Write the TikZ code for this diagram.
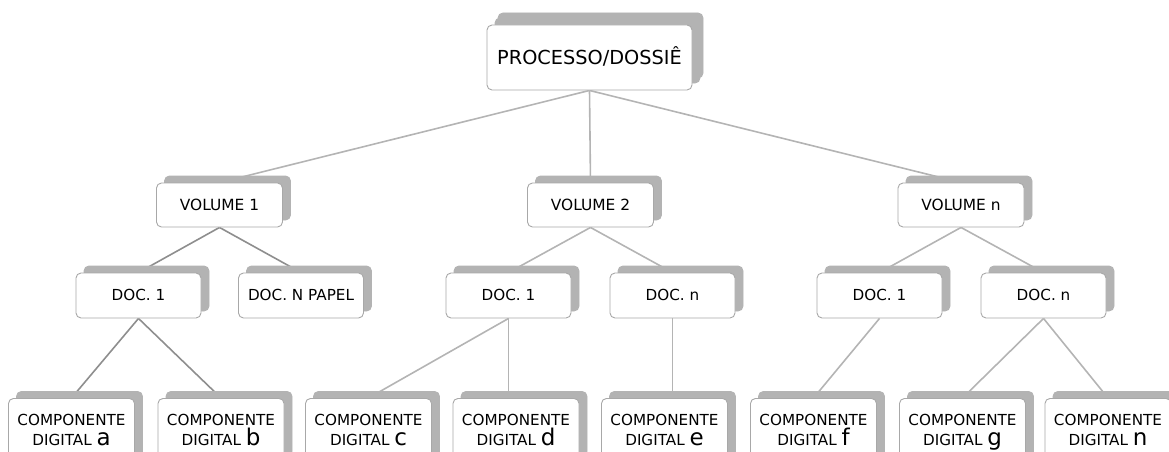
\documentclass[tikz,border=0pt]{standalone}
\usepackage{fontspec}
\setmainfont{DejaVu Sans}
\usetikzlibrary{shadows,backgrounds}
\definecolor{shadowgray}{HTML}{B3B3B3}
\definecolor{boxborder}{HTML}{A8A8A8}
\definecolor{linelight}{HTML}{B4B4B4}
\definecolor{linedark}{HTML}{8E8E8E}
\tikzset{
  card/.style={draw=boxborder, line width=0.9pt, fill=white, rounded corners=5pt,
    inner sep=0pt, text=black,
    copy shadow={shadow xshift=8pt, shadow yshift=7pt, fill=shadowgray, draw=shadowgray}},
  topcard/.style={card, copy shadow={shadow xshift=11pt, shadow yshift=12pt, fill=shadowgray, draw=shadowgray},
    minimum width=205pt, minimum height=65pt, text height=15pt, text depth=0pt,
    font=\fontsize{19.3}{23}\selectfont},
  volcard/.style={card, minimum width=126pt, minimum height=44pt, text height=11pt, text depth=1pt,
    font=\fontsize{15.4}{18}\selectfont},
  doccard/.style={card, minimum width=125pt, minimum height=45pt, text height=11pt, text depth=1pt,
    font=\fontsize{15.2}{18}\selectfont},
  compcard/.style={card, anchor=north, minimum width=126pt, inner ysep=16pt, align=center,
    text height=31pt, text depth=2pt, font=\fontsize{15.2}{20}\selectfont},
  linkl/.style={draw=linelight, line width=1.6pt},
  linkd/.style={draw=linedark, line width=1.6pt},
}
\newcommand{\bigletter}[1]{{\fontsize{23}{20}\selectfont #1}}
\begin{document}
\begin{tikzpicture}[x=1pt, y=-1pt]
\useasboundingbox (0,0) rectangle (1169,452);
\begin{scope}
\clip (0,0) rectangle (1169,452);
\node[topcard] (top) at (589.5,57.5) {PROCESSO/DOSSIÊ};

\node[volcard] (v1) at (219.5,205) {VOLUME 1};
\node[volcard] (v2) at (590.5,205) {VOLUME 2};
\node[volcard] (vn) at (961,205) {VOLUME n};

\node[doccard] (d11) at (138.5,295.5) {DOC. 1};
\node[doccard] (d1p) at (301,295.5) {DOC. N PAPEL};
\node[doccard] (d21) at (508.5,295.5) {DOC. 1};
\node[doccard] (d2n) at (672.5,295.5) {DOC. n};
\node[doccard] (dn1) at (879.5,295.5) {DOC. 1};
\node[doccard] (dnn) at (1043.5,295.5) {DOC. n};

\node[compcard] (ca) at (71.5,398) {COMPONENTE\\DIGITAL \bigletter{a}};
\node[compcard] (cb) at (221,398) {COMPONENTE\\DIGITAL \bigletter{b}};
\node[compcard] (cc) at (368.5,398) {COMPONENTE\\DIGITAL \bigletter{c}};
\node[compcard] (cd) at (516,398) {COMPONENTE\\DIGITAL \bigletter{d}};
\node[compcard] (ce) at (664.5,398) {COMPONENTE\\DIGITAL \bigletter{e}};
\node[compcard] (cf) at (813.5,398) {COMPONENTE\\DIGITAL \bigletter{f}};
\node[compcard] (cg) at (962.5,398) {COMPONENTE\\DIGITAL \bigletter{g}};
\node[compcard] (cn) at (1108,398) {COMPONENTE\\DIGITAL \bigletter{n}};
\end{scope}

\begin{pgfonlayer}{background}
\draw[linkl] (top.south) -- (v1.north);
\draw[linkl] (top.south) -- (v2.north);
\draw[linkl] (top.south) -- (vn.north);

\draw[linkd] (v1.south) -- (d11.north);
\draw[linkd] (v1.south) -- (d1p.north);
\draw[linkl] (v2.south) -- (d21.north);
\draw[linkl] (v2.south) -- (d2n.north);
\draw[linkl] (vn.south) -- (dn1.north);
\draw[linkl] (vn.south) -- (dnn.north);

\draw[linkd] (d11.south) -- (ca.north);
\draw[linkd] (d11.south) -- (cb.north);
\draw[linkl] (d21.south) -- (cc.north);
\draw[linkl] (d21.south) -- (d21.south |- cd.north);
\draw[linkl] (d2n.south) -- (d2n.south |- ce.north);
\draw[linkl] (dn1.south) -- (cf.north);
\draw[linkl] (dnn.south) -- (cg.north);
\draw[linkl] (dnn.south) -- (cn.north);
\end{pgfonlayer}
\end{tikzpicture}
\end{document}
